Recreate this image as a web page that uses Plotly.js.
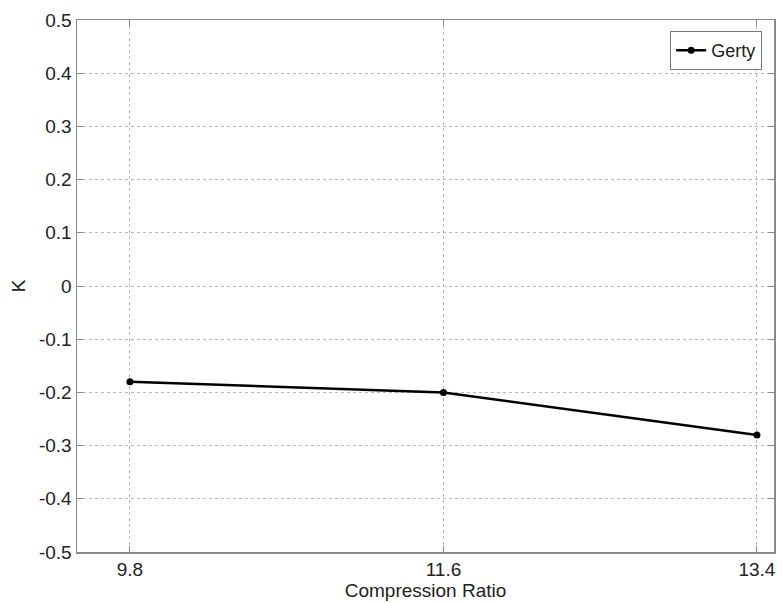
<!DOCTYPE html>
<html>
<head>
<meta charset="utf-8">
<script src="https://cdn.plot.ly/plotly-3.0.1.min.js"></script>
<style>
  html, body { margin: 0; padding: 0; background: #fff; }
  #chart { width: 783px; height: 603px; }
</style>
</head>
<body>
<div id="chart"></div>
<script>
// Compression ratio vs. K for the Gerty series
const compressionRatio = [9.8, 11.6, 13.4];
const kValues = [-0.18, -0.2, -0.28];
const seriesName = 'Gerty';
const yTicks = [-0.5, -0.4, -0.3, -0.2, -0.1, 0, 0.1, 0.2, 0.3, 0.4, 0.5];

const FONT = 'Liberation Sans, Arial, sans-serif';

const trace = {
  x: compressionRatio,
  y: kValues,
  name: seriesName,
  type: 'scatter',
  mode: 'lines+markers',
  line: { color: '#000', width: 2.5 },
  marker: { color: '#000', size: 7 }
};

const axisCommon = {
  showline: true,
  linecolor: '#8a8a8a',
  linewidth: 1.5,
  mirror: 'ticks',
  ticks: 'inside',
  ticklen: 6,
  tickcolor: '#8a8a8a',
  showgrid: true,
  gridcolor: '#b8b8b8',
  griddash: 'dot',
  gridwidth: 1,
  zeroline: false,
  tickfont: { family: FONT, size: 19, color: '#222' }
};

const layout = {
  width: 783,
  height: 603,
  margin: { l: 77, r: 9, t: 20, b: 51 },
  paper_bgcolor: '#fff',
  plot_bgcolor: '#fff',
  showlegend: true,
  legend: {
    x: 0.983, y: 0.979, xanchor: 'right', yanchor: 'top',
    bgcolor: '#fff', bordercolor: '#777', borderwidth: 1,
    font: { family: FONT, size: 18, color: '#222' },
    itemwidth: 30
  },
  xaxis: Object.assign({}, axisCommon, {
    range: [9.496, 13.498],
    tickvals: compressionRatio,
    ticktext: compressionRatio.map(v => v.toFixed(1)),
    title: { text: 'Compression Ratio', standoff: 0,
             font: { family: FONT, size: 19, color: '#222' } }
  }),
  yaxis: Object.assign({}, axisCommon, {
    range: [-0.5, 0.5],
    tickvals: yTicks,
    ticktext: yTicks.map(v => v === 0 ? '0' : String(v)),
    title: { text: 'K', standoff: 8,
             font: { family: FONT, size: 19, color: '#222' } }
  })
};

Plotly.newPlot('chart', [trace], layout, { staticPlot: true, displayModeBar: false });
</script>
</body>
</html>
